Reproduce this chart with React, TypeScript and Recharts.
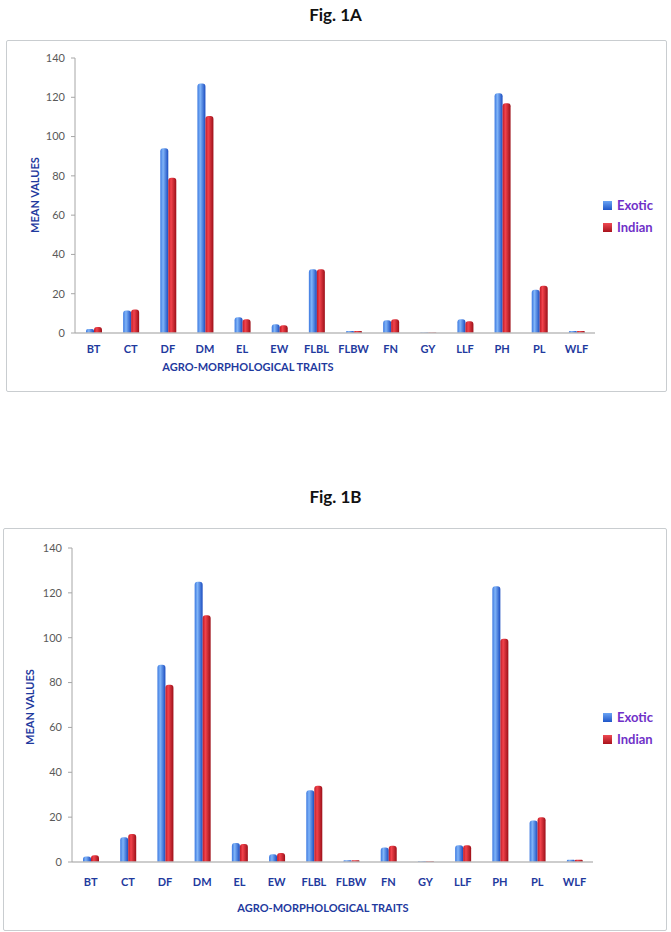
import React from "react";
import { Bar, BarChart, XAxis, YAxis } from "recharts";

const traits = ["BT", "CT", "DF", "DM", "EL", "EW", "FLBL", "FLBW", "FN", "GY", "LLF", "PH", "PL", "WLF"];

// Fig. 1A
const exoticA = [2, 11.5, 94, 127, 8, 4.5, 32.5, 1, 6.5, 0.3, 7, 122, 22, 1];
const indianA = [3, 12, 79, 110.5, 7, 4, 32.5, 1, 7, 0.3, 6, 117, 24, 1];

// Fig. 1B
const exoticB = [2.5, 11, 88, 125, 8.5, 3.5, 32, 0.8, 6.5, 0.3, 7.5, 123, 18.5, 1];
const indianB = [3, 12.5, 79, 110, 8, 4, 34, 0.8, 7.2, 0.3, 7.5, 99.5, 20, 1];

const yTicks = [0, 20, 40, 60, 80, 100, 120, 140];

const seriesNames = ["Exotic", "Indian"];

const BLUE_TEXT = "#1f3a9e";
const LEGEND_TEXT = "#7030c8";
const FONT = "Lato, 'Open Sans', sans-serif";

const buildRows = (exotic: number[], indian: number[]) =>
  traits.map((t, i) => ({ trait: t, Exotic: exotic[i], Indian: indian[i] }));

const GradientDefs = () => (
  <defs>
    <linearGradient id="gradBlue" x1="0" y1="0" x2="1" y2="0">
      <stop offset="0%" stopColor="#3b78e0" />
      <stop offset="35%" stopColor="#80b4f8" />
      <stop offset="100%" stopColor="#1a4cc0" />
    </linearGradient>
    <linearGradient id="gradRed" x1="0" y1="0" x2="1" y2="0">
      <stop offset="0%" stopColor="#c01a26" />
      <stop offset="35%" stopColor="#f2434c" />
      <stop offset="100%" stopColor="#9c0f18" />
    </linearGradient>
  </defs>
);

const abs = (style: React.CSSProperties): React.CSSProperties => ({ position: "absolute", ...style });

const LegendBox = ({ left, top }: { left: number; top: number }) => (
  <div style={abs({ left, top, fontFamily: FONT, fontWeight: 700, fontSize: 13, color: LEGEND_TEXT })}>
    {seriesNames.map((name, i) => (
      <div key={name} style={{ display: "flex", alignItems: "center", height: 22 }}>
        <span
          style={{
            display: "inline-block",
            width: 9,
            height: 9,
            marginRight: 5,
            background: i === 0 ? "linear-gradient(#6aa4f4,#1f56c8)" : "linear-gradient(#ef4a52,#a8121c)",
          }}
        />
        {name}
      </div>
    ))}
  </div>
);

type PanelProps = {
  rows: { trait: string; Exotic: number; Indian: number }[];
  top: number;
  height: number;
  margin: { top: number; right: number; left: number; bottom: number };
  tickMargin: number;
};

const Panel = ({ rows, top, height, margin, tickMargin }: PanelProps) => (
  <div style={{ position: "absolute", left: 0, top, width: 671, height }}>
    <BarChart width={671} height={height} data={rows} margin={margin} barGap={0} barCategoryGap="30%">
      <GradientDefs />
      <XAxis
        dataKey="trait"
        interval={0}
        height={30}
        tickLine={false}
        tickMargin={tickMargin}
        axisLine={{ stroke: "#bdbdbd", strokeWidth: 1.5 }}
        tick={{ fill: BLUE_TEXT, fontSize: 11, fontWeight: 700, fontFamily: FONT }}
      />
      <YAxis
        width={40}
        domain={[0, 140]}
        ticks={yTicks}
        tickSize={4}
        tickMargin={6}
        axisLine={{ stroke: "#a6a6a6" }}
        tickLine={{ stroke: "#a6a6a6" }}
        tick={{ fill: "#595959", fontSize: 11, fontFamily: FONT }}
      />
      <Bar dataKey="Exotic" fill="url(#gradBlue)" barSize={8} radius={[3, 3, 0, 0]} isAnimationActive={false} />
      <Bar dataKey="Indian" fill="url(#gradRed)" barSize={8} radius={[3, 3, 0, 0]} isAnimationActive={false} />
    </BarChart>
  </div>
);

const FigTitle = ({ text, top }: { text: string; top: number }) => (
  <div
    style={abs({
      left: 0,
      top,
      width: 671,
      textAlign: "center",
      fontFamily: FONT,
      fontWeight: 700,
      fontSize: 17,
      color: "#111",
    })}
  >
    {text}
  </div>
);

const XTitle = ({ cx, cy }: { cx: number; cy: number }) => (
  <div
    style={abs({
      left: cx - 120,
      top: cy - 7,
      width: 240,
      textAlign: "center",
      fontFamily: FONT,
      fontWeight: 700,
      fontSize: 11,
      color: BLUE_TEXT,
      lineHeight: "14px",
    })}
  >
    AGRO-MORPHOLOGICAL TRAITS
  </div>
);

const YTitle = ({ cx, cy }: { cx: number; cy: number }) => (
  <div
    style={abs({
      left: cx - 50,
      top: cy - 7,
      width: 100,
      textAlign: "center",
      fontFamily: FONT,
      fontWeight: 700,
      fontSize: 11,
      color: BLUE_TEXT,
      lineHeight: "14px",
      transform: "rotate(-90deg)",
    })}
  >
    MEAN VALUES
  </div>
);

export default function App() {
  return (
    <div style={abs({ left: 0, top: 0, width: 671, height: 932, background: "#fff", overflow: "hidden" })}>
      <FigTitle text="Fig. 1A" top={4} />
      <div
        style={abs({
          left: 6,
          top: 40,
          width: 661,
          height: 352,
          border: "1.5px solid #c9cdd0",
          borderRadius: 2,
          boxSizing: "border-box",
        })}
      />
      <Panel
        rows={buildRows(exoticA, indianA)}
        top={0}
        height={400}
        margin={{ top: 58, right: 76, left: 35, bottom: 37 }}
        tickMargin={6}
      />
      <LegendBox left={603} top={194} />
      <XTitle cx={248} cy={367} />
      <YTitle cx={35} cy={195} />

      <FigTitle text="Fig. 1B" top={486} />
      <div
        style={abs({
          left: 3,
          top: 528,
          width: 664,
          height: 403,
          border: "1.5px solid #c9cdd0",
          borderRadius: 2,
          boxSizing: "border-box",
        })}
      />
      <Panel
        rows={buildRows(exoticB, indianB)}
        top={480}
        height={452}
        margin={{ top: 68, right: 78, left: 32, bottom: 40 }}
        tickMargin={10}
      />
      <LegendBox left={603} top={706} />
      <XTitle cx={323} cy={908} />
      <YTitle cx={30} cy={707} />
    </div>
  );
}
